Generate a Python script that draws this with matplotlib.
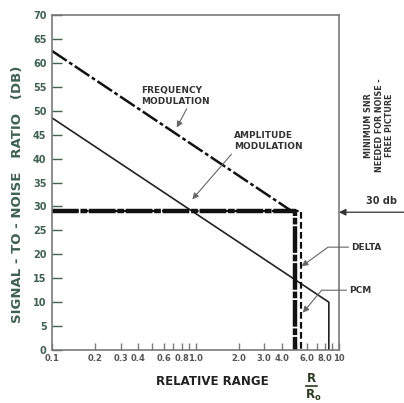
import numpy as np
import matplotlib.pyplot as plt

# values
fm_x = [0.1, 4.7]
fm_y = [62.5, 29.0]
am_x = [0.1, 8.5, 8.5]
am_y = [48.5, 10.0, 0.0]
pcm_x = [0.1, 4.9, 4.9]
pcm_y = [29.0, 29.0, 0.0]
delta_x = [0.1, 5.45, 5.45]
delta_y = [29.0, 29.0, 0.0]

ytick_vals = list(range(0, 75, 5))
xtick_vals = [0.1, 0.2, 0.3, 0.4, 0.6, 0.8, 1.0, 2.0, 3.0, 4.0, 6.0, 8.0, 10.0]
xtick_labels = ["0.1", "0.2", "0.3", "0.4", "0.6", "0.8", "1.0",
                "2.0", "3.0", "4.0", "6.0", "8.0", "10"]

green = "#3f6150"
gray = "#7a7a7a"

fig = plt.figure(figsize=(4.04, 4.03), dpi=100)
ax = fig.add_axes([0.129, 0.1315, 0.710, 0.831])

ax.plot(am_x, am_y, color="#222222", lw=1.2)
ax.plot(fm_x, fm_y, color="#111111", lw=1.8, linestyle=(0, (7, 1.2, 1.5, 1.2)))
ax.plot(pcm_x, pcm_y, color="#111111", lw=3.2, linestyle=(0, (6, 0.4, 1.5, 0.4)))
ax.plot(delta_x, delta_y, color="#111111", lw=1.6, linestyle=(0, (3, 1.5)))

ax.set_xscale("log")
ax.set_xlim(0.1, 10)
ax.set_ylim(0, 70)

ax.set_yticks(ytick_vals)
ax.set_yticklabels([str(v) for v in ytick_vals], color=green, fontsize=7,
                   fontweight="bold")
ax.set_xticks(xtick_vals)
ax.set_xticklabels(xtick_labels, color="#555555", fontsize=6, fontweight="bold")
ax.set_xticks([0.5, 0.7, 0.9, 5.0, 7.0, 9.0], minor=True)
ax.tick_params(axis="y", direction="in", length=7, width=1, color=green, pad=4)
ax.tick_params(axis="x", which="both", direction="in", length=5, width=1,
               color=gray, pad=3)
for s in ax.spines.values():
    s.set_color(gray)
    s.set_linewidth(1.2)

ax.text(-0.12, 0.465, "SIGNAL - TO - NOISE   RATIO   (DB)", transform=ax.transAxes,
        rotation=90, ha="center", va="center", color=green, fontsize=9.5,
        fontweight="bold")
ax.text(0.56, -0.095, "RELATIVE RANGE", transform=ax.transAxes, ha="center",
        va="center", fontsize=8.5, fontweight="bold", color="#222222")
ax.text(0.905, -0.085, "R", transform=ax.transAxes, ha="center", va="center",
        fontsize=8.5, fontweight="bold", color="#2b3b22")
ax.plot([0.885, 0.925], [-0.108, -0.108], transform=ax.transAxes,
        color="#2b3b22", lw=1.2, clip_on=False)
ax.text(0.91, -0.135, r"R$_{\mathbf{o}}$", transform=ax.transAxes, ha="center",
        va="center", fontsize=8.5, fontweight="bold", color="#2b3b22")

ann = dict(fontsize=6.5, color="#333333", fontweight="bold", linespacing=1.3)
arr = dict(arrowstyle="-|>", color="#666666", lw=0.8, mutation_scale=9,
           shrinkA=0, shrinkB=0)

ax.annotate("FREQUENCY\nMODULATION", xy=(0.74, 46.5), xytext=(0.42, 51.0),
            ha="left", va="bottom", arrowprops=dict(arr, relpos=(0.68, 0)), **ann)
ax.annotate("AMPLITUDE\nMODULATION", xy=(0.95, 31.5), xytext=(1.85, 41.5),
            ha="left", va="bottom", arrowprops=dict(arr, relpos=(0.0, 0)), **ann)
ax.annotate("DELTA", xy=(5.5, 17.5), xytext=(12.2, 21.5), ha="left",
            va="center", annotation_clip=False,
            arrowprops=dict(arr, connectionstyle="angle,angleA=0,angleB=36,rad=0"),
            **ann)
ax.annotate("PCM", xy=(5.6, 7.8), xytext=(11.8, 12.5), ha="left",
            va="center", annotation_clip=False,
            arrowprops=dict(arr, connectionstyle="angle,angleA=0,angleB=50,rad=0"),
            **ann)

ax.annotate("", xy=(1.0, 28.8), xycoords=("axes fraction", "data"),
            xytext=(1.23, 28.8), textcoords=("axes fraction", "data"),
            arrowprops=dict(arrowstyle="-|>", color="#333333", lw=0.9,
                            mutation_scale=10, shrinkA=0, shrinkB=0),
            annotation_clip=False)
ax.text(1.15, 30.2, "30 db", transform=ax.get_yaxis_transform(), ha="center",
        va="bottom", fontsize=7, fontweight="bold", color="#333333")
ax.text(1.14, 47, "MINIMUM SNR\nNEEDED FOR NOISE -\nFREE PICTURE",
        transform=ax.get_yaxis_transform(), rotation=90, ha="center",
        va="center", fontsize=5.8, fontweight="bold", color="#333333",
        linespacing=1.2)

fig.savefig("out.png", dpi=100)
